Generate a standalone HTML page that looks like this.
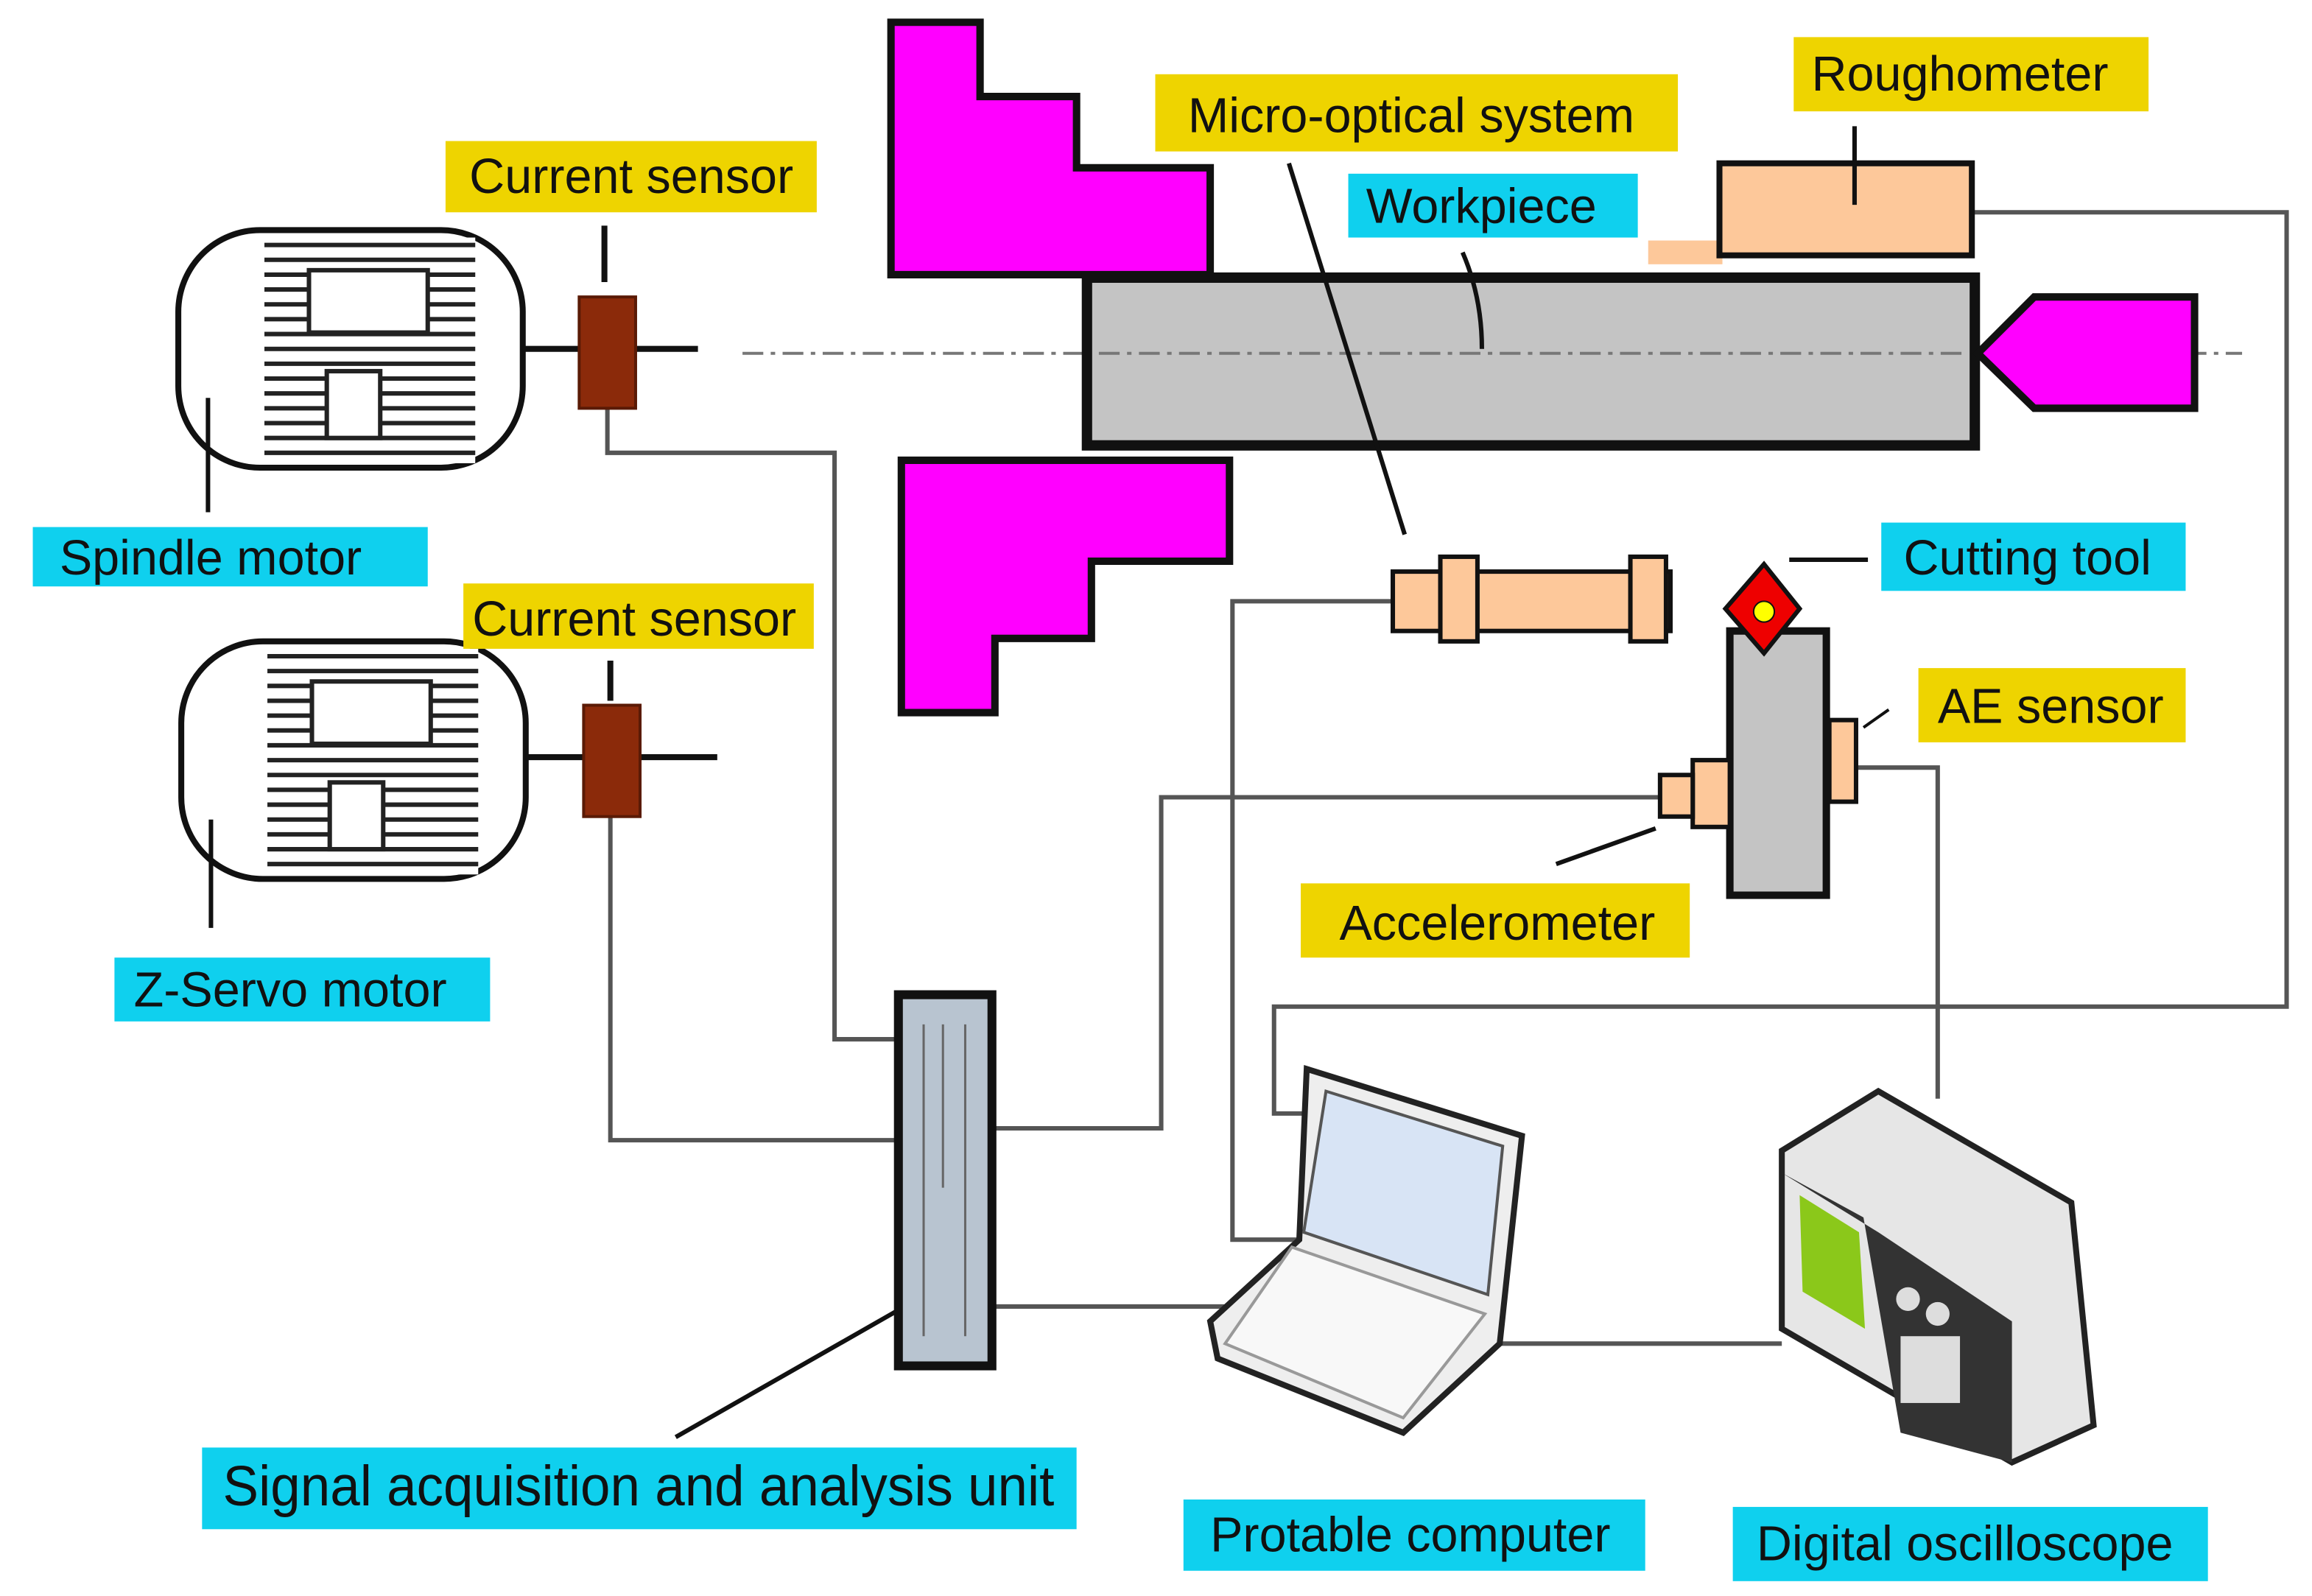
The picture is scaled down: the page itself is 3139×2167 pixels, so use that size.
<!DOCTYPE html>
<html><head><meta charset="utf-8"><style>
html,body{margin:0;padding:0;background:#fff;}
svg{display:block;}
text{font-family:"Liberation Sans","DejaVu Sans",sans-serif;fill:#111;}
</style></head><body>
<svg width="3139" height="2167" viewBox="0 0 1557 1075" xmlns="http://www.w3.org/2000/svg">
<rect width="1557" height="1075" fill="#fff"/>
<g fill="none" stroke="#555" stroke-width="3">
<polyline points="409,275 409,305 562,305 562,700 605,700"/>
<polyline points="411,550 411,768 605,768"/>
<polyline points="668,760 782,760 782,537 1118,537"/>
<polyline points="938,405 830,405 830,835 880,835"/>
<polyline points="668,880 825,880"/>
<polyline points="1010,905 1200,905"/>
<polyline points="1328,143 1540,143 1540,678 858,678 858,750 885,750"/>
<polyline points="1250,517 1305,517 1305,740"/>
</g>
<line x1="500" y1="238" x2="1510" y2="238" stroke="#777" stroke-width="2" stroke-dasharray="14,5,3,5"/>
<g>
<rect x="120" y="155" width="232" height="160" rx="55" fill="#fff" stroke="#111" stroke-width="4"/>
<rect x="178" y="160" width="142" height="152" fill="#fff"/>
<g stroke="#222" stroke-width="3">
<line x1="178" y1="165" x2="320" y2="165"/><line x1="178" y1="175" x2="320" y2="175"/><line x1="178" y1="185" x2="320" y2="185"/><line x1="178" y1="195" x2="320" y2="195"/><line x1="178" y1="205" x2="320" y2="205"/><line x1="178" y1="215" x2="320" y2="215"/><line x1="178" y1="225" x2="320" y2="225"/><line x1="178" y1="235" x2="320" y2="235"/><line x1="178" y1="245" x2="320" y2="245"/><line x1="178" y1="255" x2="320" y2="255"/><line x1="178" y1="265" x2="320" y2="265"/><line x1="178" y1="275" x2="320" y2="275"/><line x1="178" y1="285" x2="320" y2="285"/><line x1="178" y1="295" x2="320" y2="295"/><line x1="178" y1="305" x2="320" y2="305"/>
</g>
<rect x="208" y="182" width="80" height="42" fill="#fff" stroke="#222" stroke-width="3"/>
<rect x="220" y="250" width="36" height="45" fill="#fff" stroke="#222" stroke-width="3"/>
<line x1="352" y1="235" x2="470" y2="235" stroke="#111" stroke-width="4"/>
<rect x="390" y="200" width="38" height="75" fill="#8b2a0a" stroke="#5a1a05" stroke-width="2"/>
<line x1="407" y1="152" x2="407" y2="190" stroke="#111" stroke-width="4"/>
<line x1="140" y1="268" x2="140" y2="345" stroke="#111" stroke-width="3"/>
</g>
<g transform="translate(2,277)">
<rect x="120" y="155" width="232" height="160" rx="55" fill="#fff" stroke="#111" stroke-width="4"/>
<rect x="178" y="160" width="142" height="152" fill="#fff"/>
<g stroke="#222" stroke-width="3">
<line x1="178" y1="165" x2="320" y2="165"/><line x1="178" y1="175" x2="320" y2="175"/><line x1="178" y1="185" x2="320" y2="185"/><line x1="178" y1="195" x2="320" y2="195"/><line x1="178" y1="205" x2="320" y2="205"/><line x1="178" y1="215" x2="320" y2="215"/><line x1="178" y1="225" x2="320" y2="225"/><line x1="178" y1="235" x2="320" y2="235"/><line x1="178" y1="245" x2="320" y2="245"/><line x1="178" y1="255" x2="320" y2="255"/><line x1="178" y1="265" x2="320" y2="265"/><line x1="178" y1="275" x2="320" y2="275"/><line x1="178" y1="285" x2="320" y2="285"/><line x1="178" y1="295" x2="320" y2="295"/><line x1="178" y1="305" x2="320" y2="305"/>
</g>
<rect x="208" y="182" width="80" height="42" fill="#fff" stroke="#222" stroke-width="3"/>
<rect x="220" y="250" width="36" height="45" fill="#fff" stroke="#222" stroke-width="3"/>
<line x1="352" y1="233" x2="481" y2="233" stroke="#111" stroke-width="4"/>
<rect x="391" y="198" width="38" height="75" fill="#8b2a0a" stroke="#5a1a05" stroke-width="2"/>
<line x1="409" y1="168" x2="409" y2="195" stroke="#111" stroke-width="4"/>
<line x1="140" y1="275" x2="140" y2="348" stroke="#111" stroke-width="3"/>
</g>
<polygon points="600,15 660,15 660,65 725,65 725,113 815,113 815,185 600,185" fill="#ff00ff" stroke="#111" stroke-width="5"/>
<polygon points="607,310 828,310 828,378 735,378 735,430 670,430 670,480 607,480" fill="#ff00ff" stroke="#111" stroke-width="5"/>
<rect x="732" y="187" width="598" height="113" fill="#c4c4c4" stroke="#111" stroke-width="7"/>
<line x1="740" y1="238" x2="1325" y2="238" stroke="#777" stroke-width="2" stroke-dasharray="14,5,3,5"/>
<polygon points="1332,238 1370,200 1478,200 1478,275 1370,275" fill="#ff00ff" stroke="#111" stroke-width="5"/>
<rect x="1110" y="162" width="50" height="16" fill="#fdc89a"/>
<rect x="1158" y="110" width="170" height="62" fill="#fdc89a" stroke="#111" stroke-width="4"/>
<line x1="1249" y1="85" x2="1249" y2="138" stroke="#111" stroke-width="3"/>
<line x1="868" y1="110" x2="946" y2="360" stroke="#111" stroke-width="3"/>
<path d="M985,170 Q998,200 998,235" fill="none" stroke="#111" stroke-width="3"/>
<line x1="455" y1="968" x2="618" y2="875" stroke="#111" stroke-width="3"/>
<line x1="1048" y1="582" x2="1115" y2="558" stroke="#111" stroke-width="3"/>
<line x1="1255" y1="490" x2="1272" y2="478" stroke="#111" stroke-width="2"/>
<line x1="1205" y1="377" x2="1258" y2="377" stroke="#111" stroke-width="3"/>
<rect x="938" y="385" width="187" height="40" fill="#fdc89a" stroke="#111" stroke-width="3"/>
<rect x="970" y="375" width="25" height="57" fill="#fdc89a" stroke="#111" stroke-width="3"/>
<rect x="1098" y="375" width="24" height="57" fill="#fdc89a" stroke="#111" stroke-width="3"/>
<rect x="1165" y="425" width="65" height="178" fill="#c4c4c4" stroke="#111" stroke-width="5"/>
<polygon points="1188,380 1212,410 1188,440 1162,410" fill="#e00" stroke="#111" stroke-width="3"/>
<circle cx="1188" cy="412" r="7" fill="#ff0" stroke="#111" stroke-width="1"/>
<rect x="1140" y="512" width="25" height="45" fill="#fdc89a" stroke="#111" stroke-width="3"/>
<rect x="1118" y="522" width="22" height="28" fill="#fdc89a" stroke="#111" stroke-width="3"/>
<rect x="1232" y="485" width="18" height="55" fill="#fdc89a" stroke="#111" stroke-width="3"/>
<rect x="605" y="670" width="63" height="250" fill="#b8c4d0" stroke="#111" stroke-width="6"/>
<g stroke="#666" stroke-width="1.5">
<line x1="622" y1="690" x2="622" y2="900"/><line x1="635" y1="690" x2="635" y2="800"/><line x1="650" y1="690" x2="650" y2="900"/>
</g>
<polygon points="880,720 1025,765 1010,905 945,965 820,915 815,890 875,835" fill="#eee" stroke="#222" stroke-width="4"/>
<polygon points="893,735 1012,772 1002,872 878,830" fill="#d8e4f5" stroke="#555" stroke-width="2"/>
<polygon points="870,840 1000,885 945,955 825,905" fill="#f8f8f8" stroke="#999" stroke-width="2"/>
<polygon points="1200,775 1265,735 1395,810 1410,960 1355,985 1200,895" fill="#e6e6e6" stroke="#222" stroke-width="4"/>
<polygon points="1200,790 1255,820 1280,965 1355,985 1355,890 1265,830 1200,790" fill="#333"/>
<polygon points="1212,805 1252,830 1256,895 1214,870" fill="#8bc81a"/>
<g fill="#ddd"><circle cx="1285" cy="875" r="8"/><circle cx="1305" cy="885" r="8"/><rect x="1280" y="900" width="40" height="45"/></g>
<g font-size="33">
<rect x="300" y="95" width="250" height="48" fill="#eed400"/><text x="316" y="130">Current sensor</text>
<rect x="22" y="355" width="266" height="40" fill="#0fd0ee"/><text x="40" y="387">Spindle motor</text>
<rect x="312" y="393" width="236" height="44" fill="#eed400"/><text x="318" y="428">Current sensor</text>
<rect x="77" y="645" width="253" height="43" fill="#0fd0ee"/><text x="90" y="678">Z-Servo motor</text>
<rect x="778" y="50" width="352" height="52" fill="#eed400"/><text x="800" y="89">Micro-optical system</text>
<rect x="908" y="117" width="195" height="43" fill="#0fd0ee"/><text x="920" y="150">Workpiece</text>
<rect x="1208" y="25" width="239" height="50" fill="#eed400"/><text x="1220" y="61">Roughometer</text>
<rect x="1267" y="352" width="205" height="46" fill="#0fd0ee"/><text x="1282" y="387">Cutting tool</text>
<rect x="1292" y="450" width="180" height="50" fill="#eed400"/><text x="1305" y="487">AE sensor</text>
<rect x="876" y="595" width="262" height="50" fill="#eed400"/><text x="902" y="633">Accelerometer</text>
<rect x="797" y="1010" width="311" height="48" fill="#0fd0ee"/><text x="815" y="1045">Protable computer</text>
<rect x="1167" y="1015" width="320" height="50" fill="#0fd0ee"/><text x="1183" y="1051">Digital oscilloscope</text>
</g>
<rect x="136" y="975" width="589" height="55" fill="#0fd0ee"/>
<text x="150" y="1014" font-size="38" textLength="560" lengthAdjust="spacingAndGlyphs">Signal acquisition and analysis unit</text>
</svg>
</body></html>
